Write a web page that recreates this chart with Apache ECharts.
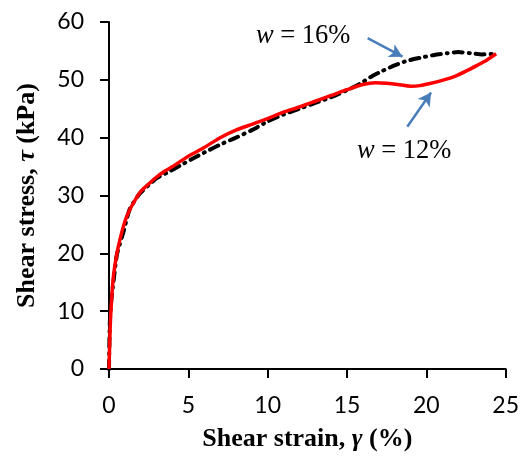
<!DOCTYPE html>
<html>
<head>
<meta charset="utf-8">
<script src="https://cdn.jsdelivr.net/npm/echarts@6/dist/echarts.min.js"></script>
<style>
  html, body, #main { width: 522px; height: 460px; margin: 0; background: #fff; }
</style>
</head>
<body>
<div id="main"></div>
<script>
// w = 12% (red, solid)
var strain12 = [0, 0.05, 0.1, 0.2, 0.3, 0.5, 0.7, 1.0, 1.3, 1.6, 2.0, 2.5, 3, 3.5, 4, 5, 6, 7, 8, 9, 10, 11, 12, 13, 14, 15, 16, 16.8, 17.5, 18.2, 19, 19.6, 20.3, 21, 21.8, 22.5, 23.2, 23.8, 24.4]
var stress12 = [0, 5, 9, 13.5, 16.5, 20, 22.5, 25.5, 27.5, 29, 30.7, 32, 33.2, 34.2, 35, 36.8, 38.3, 40, 41.3, 42.3, 43.3, 44.4, 45.3, 46.3, 47.3, 48.3, 49.2, 49.5, 49.4, 49.2, 48.9, 49.0, 49.4, 49.9, 50.6, 51.5, 52.5, 53.4, 54.5]

// w = 16% (black, dash-dot)
var strain16 = [0, 0.05, 0.15, 0.3, 0.5, 0.9, 1.3, 1.9, 2.5, 3, 3.7, 4.5, 5.5, 6.2, 7, 8, 9, 10, 11, 12, 13, 14, 15, 15.8, 16.5, 17.2, 18, 18.8, 19.6, 20.5, 21.3, 22, 22.8, 23.5, 24.4]
var stress16 = [0, 8, 12, 15.5, 19.8, 23.6, 27.6, 30.2, 31.8, 33, 34, 35.2, 36.7, 37.7, 38.8, 40, 41.3, 42.8, 44, 45, 46, 47, 48.2, 49.3, 50.5, 51.5, 52.5, 53.3, 53.8, 54.3, 54.6, 54.8, 54.6, 54.4, 54.5]

// annotation arrows, [from, to] in data units
var arrow16 = [[16.3, 57.2], [18.5, 54.0]]
var arrow12 = [[18.8, 41.9], [20.3, 47.8]]

var pairs = function (xs, ys) { return xs.map(function (x, i) { return [x, ys[i]] }) }

var chart = echarts.init(document.getElementById('main'))

var nameFont = { color: '#000', fontFamily: 'Liberation Serif', fontWeight: 'bold', fontSize: 26,
  rich: { g: { fontStyle: 'italic', fontWeight: 'bold', fontFamily: 'Liberation Serif', fontSize: 26 } } }

var axisCommon = {
  axisLine: { show: true, lineStyle: { color: '#000', width: 2 } },
  axisTick: { show: true, inside: false, length: 9, lineStyle: { color: '#000', width: 2 } },
  splitLine: { show: false },
  nameLocation: 'middle',
  nameTextStyle: nameFont
}

var arrowLine = function (a) {
  return {
    silent: true,
    symbol: ['none', 'arrow'],
    symbolSize: [11, 13],
    label: { show: false },
    lineStyle: { color: '#4a7ebb', width: 2.5, type: 'solid' },
    data: [[{ coord: a[0] }, { coord: a[1] }]]
  }
}

var option = {
  animation: false,
  grid: { left: 109, right: 15, top: 22, bottom: 91 },
  xAxis: Object.assign({}, axisCommon, {
    type: 'value', min: 0, max: 25, interval: 5,
    name: 'Shear strain, {g|γ} (%)', nameGap: 57,
    axisLabel: { color: '#000', fontFamily: 'Lato', fontSize: 23, margin: 25 }
  }),
  yAxis: Object.assign({}, axisCommon, {
    type: 'value', min: 0, max: 60, interval: 10,
    name: 'Shear stress, {g|τ} (kPa)', nameGap: 69,
    axisLabel: { color: '#000', fontFamily: 'Lato', fontSize: 23, margin: 25 }
  }),
  series: [
    {
      name: 'w = 16%', type: 'line', showSymbol: false, smooth: 0.2,
      lineStyle: { color: '#000', width: 4, type: [9, 6, 1, 6], cap: 'round' },
      data: pairs(strain16, stress16),
      markLine: arrowLine(arrow16)
    },
    {
      name: 'w = 12%', type: 'line', showSymbol: false, smooth: 0.2,
      lineStyle: { color: '#ff0000', width: 3.5 },
      data: pairs(strain12, stress12),
      markLine: arrowLine(arrow12)
    }
  ],
  graphic: [
    {
      type: 'text', left: 256, top: 23,
      style: { text: '{i|w} = 16%', fontFamily: 'Liberation Serif', fontSize: 26.5, fill: '#000',
        rich: { i: { fontStyle: 'italic', fontFamily: 'Liberation Serif', fontSize: 26.5 } } }
    },
    {
      type: 'text', left: 357, top: 138,
      style: { text: '{i|w} = 12%', fontFamily: 'Liberation Serif', fontSize: 26.5, fill: '#000',
        rich: { i: { fontStyle: 'italic', fontFamily: 'Liberation Serif', fontSize: 26.5 } } }
    }
  ]
}
chart.setOption(option)
</script>
</body>
</html>
